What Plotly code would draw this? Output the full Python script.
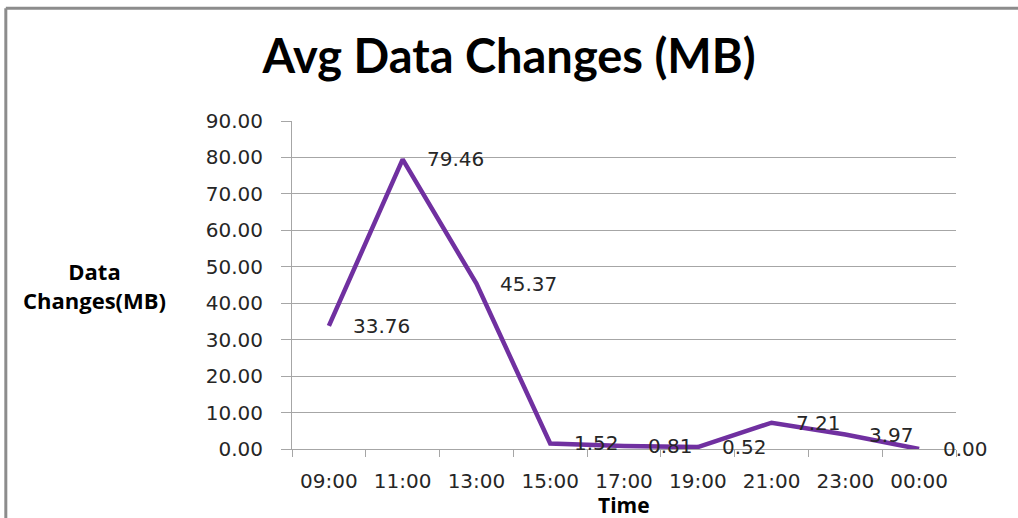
import plotly.graph_objects as go

times = ["09:00", "11:00", "13:00", "15:00", "17:00", "19:00", "21:00", "23:00", "00:00"]
changes_mb = [33.76, 79.46, 45.37, 1.52, 0.81, 0.52, 7.21, 3.97, 0.00]
y_ticks = [0, 10, 20, 30, 40, 50, 60, 70, 80, 90]

LINE = "#7030A0"
GRID = "#A6A6A6"
TXT = "#262626"
TICKFONT = dict(family="DejaVu Sans", size=20, color=TXT)

fig = go.Figure()
fig.add_trace(go.Scatter(
    x=times, y=changes_mb, mode="lines",
    line=dict(color=LINE, width=4.5),
    hoverinfo="x+y", showlegend=False,
))

annotations = []
for t, v in zip(times, changes_mb):
    annotations.append(dict(
        x=t, y=v, xref="x", yref="y", text=f"{v:.2f}", showarrow=False,
        xanchor="left", yanchor="middle", xshift=22, font=TICKFONT,
    ))
annotations.append(dict(
    x=-0.297, y=0.5, xref="paper", yref="paper", text="Data<br>Changes(MB)",
    showarrow=False, xanchor="center", yanchor="middle", align="center",
    font=dict(family="Open Sans", size=22, color="black", weight="bold"),
))
annotations.append(dict(
    x=0.5, y=-0.171, xref="paper", yref="paper", text="Time",
    showarrow=False, xanchor="center", yanchor="middle",
    font=dict(family="Open Sans", size=21, color="black", weight="bold"),
))

fig.update_layout(
    width=1018, height=518,
    margin=dict(l=292, r=62, t=121, b=69),
    paper_bgcolor="white", plot_bgcolor="white",
    title=dict(
        text="Avg Data Changes (MB)", x=0.5, xref="container", xanchor="center",
        y=1 - 57 / 518, yref="container", yanchor="middle",
        font=dict(family="Lato", size=47, color="black", weight="bold"),
    ),
    xaxis=dict(
        type="category", tickson="boundaries", ticks="outside", ticklen=7,
        tickcolor=GRID, tickwidth=1, showline=True, linecolor=GRID, linewidth=1,
        showgrid=False, tickfont=TICKFONT, ticklabelstandoff=14,
        range=[-0.5, len(times) - 0.5],
    ),
    yaxis=dict(
        range=[0, 90], tickvals=y_ticks, tickformat=".2f",
        ticks="outside", ticklen=10, tickcolor=GRID, tickwidth=1,
        showline=True, linecolor=GRID, linewidth=1,
        showgrid=True, gridcolor=GRID, gridwidth=1, zeroline=False,
        tickfont=TICKFONT, ticklabelstandoff=14,
    ),
    annotations=annotations,
    shapes=[
        dict(type="line", xref="paper", yref="paper", x0=-0.431, x1=1.2, y0=1.344, y1=1.344,
             line=dict(color="#8C8C8C", width=3)),
        dict(type="line", xref="paper", yref="paper", x0=-0.431, x1=-0.431, y0=1.344, y1=-0.3,
             line=dict(color="#8C8C8C", width=3)),
    ],
)

fig.write_html(
    "out.html",
    config={"displayModeBar": False},
    post_script="document.body.style.margin='0';document.body.style.overflow='hidden';",
)
